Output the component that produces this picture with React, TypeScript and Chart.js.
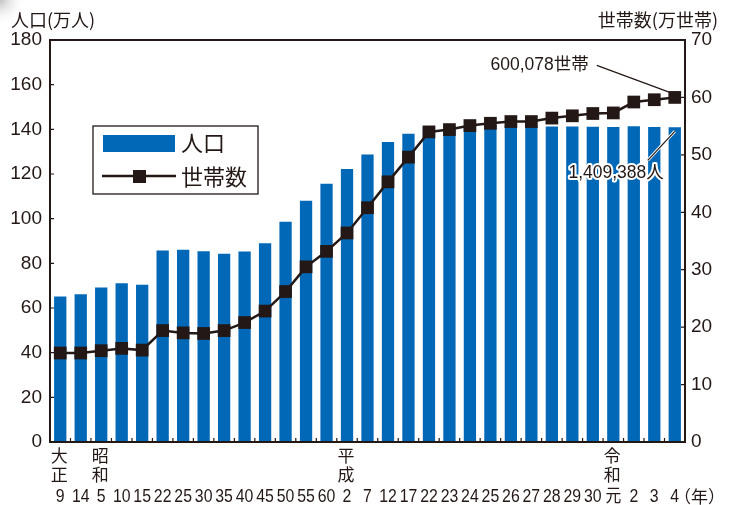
import React, { useEffect, useRef } from "react";
import { Chart, registerables } from "chart.js";
Chart.register(...registerables);

// ---- data ----
const yearLabels = ["9","14","5","10","15","22","25","30","35","40","45","50","55","60","2","7","12","17","22","23","24","25","26","27","28","29","30","元","2","3","4"];
const eraLabels = ["大正","","昭和","","","","","","","","","","","","平成","","","","","","","","","","","","","令和","","",""];
const population = [65.1,66.2,69.2,71.1,70.4,85.8,86.1,85.4,84.3,85.3,89.0,98.6,108.0,115.6,122.2,128.7,134.3,138.0,141.1,141.3,141.5,141.6,141.6,141.3,141.3,141.3,141.2,141.1,141.4,141.1,140.9];
const households = [15.5,15.5,15.9,16.3,16.0,19.4,19.0,18.9,19.4,20.8,22.8,26.2,30.5,33.2,36.4,40.8,45.3,49.6,54.0,54.4,55.1,55.5,55.8,55.8,56.4,56.8,57.2,57.3,59.2,59.6,60.0];
const popTickValues = [0,20,40,60,80,100,120,140,160,180];
const hhTickValues = [0,10,20,30,40,50,60,70];
const popTitle = "人口(万人)";
const hhTitle = "世帯数(万世帯)";
const popName = "人口";
const hhName = "世帯数";
const hhNote = "600,078世帯";
const popNote = "1,409,388人";
const yearUnit = "（年）";

const INK = "#231815";
const BLUE = "#0068b7";
const CJK = '"Noto Sans CJK JP", sans-serif';
const NUM = '"Liberation Sans", "Noto Sans CJK JP", sans-serif';

const decor = {
  id: "decor",
  beforeDraw(chart: any) {
    const ctx = chart.ctx;
    ctx.save();
    const g = ctx.createRadialGradient(0, 0, 0, 0, 0, 26);
    g.addColorStop(0, "rgba(140,140,140,0.55)");
    g.addColorStop(1, "rgba(255,255,255,0)");
    ctx.fillStyle = g;
    ctx.fillRect(0, 0, 30, 30);
    ctx.restore();
  },
  afterDraw(chart: any) {
    const ctx = chart.ctx;
    const a = chart.chartArea;
    const xs = chart.scales.x;
    const y1 = chart.scales.y;
    const y2 = chart.scales.y2;
    ctx.save();
    // frame
    ctx.strokeStyle = INK;
    ctx.lineWidth = 2;
    ctx.strokeRect(a.left, a.top, a.right - a.left, a.bottom - a.top);
    // inward ticks
    ctx.lineWidth = 1.2;
    ctx.beginPath();
    popTickValues.forEach((v) => {
      const y = y1.getPixelForValue(v);
      ctx.moveTo(a.left, y); ctx.lineTo(a.left + 4, y);
    });
    hhTickValues.forEach((v) => {
      const y = y2.getPixelForValue(v);
      ctx.moveTo(a.right - 4, y); ctx.lineTo(a.right, y);
    });
    for (let i = 0; i < yearLabels.length - 1; i++) {
      const x = (xs.getPixelForValue(i) + xs.getPixelForValue(i + 1)) / 2;
      ctx.moveTo(x, a.bottom); ctx.lineTo(x, a.bottom - 4);
    }
    ctx.stroke();

    ctx.fillStyle = INK;
    // x labels
    ctx.textBaseline = "middle";
    ctx.textAlign = "center";
    yearLabels.forEach((lab, i) => {
      const x = xs.getPixelForValue(i);
      ctx.save();
      ctx.translate(x, 497);
      ctx.scale(0.88, 1);
      ctx.font = `18px ${NUM}`;
      ctx.fillText(lab, 0, 0);
      ctx.restore();
      const era = eraLabels[i];
      if (era) {
        ctx.font = `17px ${CJK}`;
        ctx.fillText(era[0], x - 1, 456);
        ctx.fillText(era[1], x - 1, 475);
      }
    });
    ctx.textAlign = "left";
    ctx.font = `17px ${CJK}`;
    ctx.fillText(yearUnit, 674, 497);

    // axis titles
    ctx.font = `18px ${CJK}`;
    ctx.textAlign = "left";
    ctx.fillText(popTitle, 11, 20);
    ctx.textAlign = "right";
    ctx.fillText(hhTitle, 718, 20);

    // legend
    ctx.fillStyle = "#fff";
    ctx.fillRect(93, 126, 165, 68);
    ctx.strokeStyle = INK;
    ctx.lineWidth = 1.3;
    ctx.strokeRect(93, 126, 165, 68);
    ctx.fillStyle = BLUE;
    ctx.fillRect(103, 135, 72, 17);
    ctx.strokeStyle = INK;
    ctx.lineWidth = 2.5;
    ctx.beginPath();
    ctx.moveTo(102, 176); ctx.lineTo(176, 176);
    ctx.stroke();
    ctx.fillStyle = INK;
    ctx.fillRect(133, 170, 13, 13);
    ctx.font = `22px ${CJK}`;
    ctx.textAlign = "left";
    ctx.fillText(popName, 181, 143);
    ctx.fillText(hhName, 181, 177);

    // annotations
    const last = yearLabels.length - 1;
    const px = xs.getPixelForValue(last);
    const hy = y2.getPixelForValue(households[last]);
    const by = y1.getPixelForValue(population[last]);
    ctx.strokeStyle = INK;
    ctx.lineWidth = 1.2;
    ctx.beginPath();
    ctx.moveTo(px - 78, hy - 32); ctx.lineTo(px - 5, hy - 5);
    ctx.stroke();
    ctx.font = `17.5px ${NUM}`;
    ctx.textAlign = "right";
    ctx.fillText(hhNote, px - 86, hy - 32);

    ctx.strokeStyle = "#fff";
    ctx.lineWidth = 3;
    ctx.beginPath();
    ctx.moveTo(px, by + 4); ctx.lineTo(px - 27, by + 33);
    ctx.stroke();
    ctx.strokeStyle = INK;
    ctx.lineWidth = 1.2;
    ctx.beginPath();
    ctx.moveTo(px, by + 4); ctx.lineTo(px - 27, by + 33);
    ctx.stroke();
    ctx.lineWidth = 4;
    ctx.lineJoin = "round";
    ctx.strokeStyle = "#fff";
    ctx.strokeText(popNote, px - 11, by + 46);
    ctx.fillStyle = INK;
    ctx.fillText(popNote, px - 11, by + 46);
    ctx.restore();
  },
};

export default function App() {
  const ref = useRef<HTMLCanvasElement>(null);
  useEffect(() => {
    document.body.style.margin = "0";
    const chart = new Chart(ref.current!, {
      type: "bar",
      data: {
        labels: yearLabels,
        datasets: [
          {
            type: "line",
            label: hhName,
            data: households,
            yAxisID: "y2",
            borderColor: INK,
            borderWidth: 2.5,
            pointStyle: "rect",
            pointRadius: 9,
            pointBackgroundColor: INK,
            pointBorderWidth: 0,
            order: 0,
          } as any,
          {
            type: "bar",
            label: popName,
            data: population,
            yAxisID: "y",
            backgroundColor: BLUE,
            barPercentage: 0.6,
            categoryPercentage: 1,
            order: 1,
          },
        ],
      },
      options: {
        responsive: false,
        animation: false,
        layout: { padding: { top: 40, left: 0, right: 0, bottom: 0 } },
        plugins: { legend: { display: false }, tooltip: { enabled: false }, title: { display: false } },
        scales: {
          x: {
            offset: true,
            grid: { display: false },
            border: { display: false },
            ticks: { display: false },
            afterFit: (s: any) => { s.height = 63; },
          },
          y: {
            position: "left",
            min: 0,
            max: 180,
            grid: { display: false, drawTicks: false },
            border: { display: false },
            ticks: { stepSize: 20, padding: 8, color: INK, font: { family: NUM, size: 19 } },
            afterFit: (s: any) => { s.width = 50; },
          },
          y2: {
            position: "right",
            min: 0,
            max: 70,
            grid: { display: false, drawTicks: false },
            border: { display: false },
            ticks: { stepSize: 10, padding: 6, color: INK, font: { family: NUM, size: 19 } },
            afterFit: (s: any) => { s.width = 49; },
          },
        },
      },
      plugins: [decor],
    });
    return () => chart.destroy();
  }, []);
  return (
    <div style={{ position: "fixed", left: 0, top: 0, width: 734, height: 505, background: "#fff" }}>
      <canvas ref={ref} width={734} height={505} style={{ width: 734, height: 505 }} />
    </div>
  );
}
